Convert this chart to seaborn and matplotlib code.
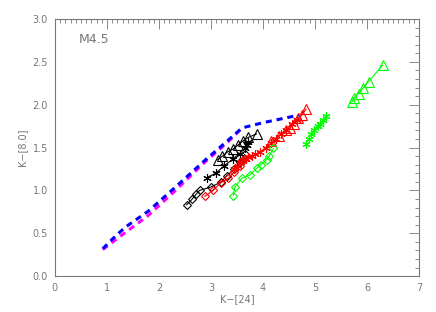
import matplotlib
matplotlib.use('Agg')
import matplotlib.pyplot as plt
import seaborn as sns
from matplotlib.ticker import MultipleLocator

# Model tracks (dashed)
blue_x = [0.92, 1.1, 1.35, 1.8, 2.3, 2.9, 3.3, 3.6, 4.0, 4.7]
blue_y = [0.32, 0.43, 0.57, 0.76, 1.03, 1.36, 1.57, 1.73, 1.79, 1.88]
mag_x = [0.92, 1.2, 1.8, 2.3, 2.9, 3.3, 3.55]
mag_y = [0.31, 0.44, 0.71, 0.99, 1.34, 1.55, 1.70]

# Black series
bk_dia_x = [2.53, 2.64, 2.72, 2.78, 3.0, 3.2, 3.3, 3.45, 3.55, 3.65]
bk_dia_y = [0.83, 0.90, 0.96, 1.00, 1.04, 1.10, 1.17, 1.25, 1.33, 1.42]
bk_star_x = [2.92, 3.09, 3.26, 3.43, 3.55, 3.65, 3.70, 3.72]
bk_star_y = [1.15, 1.20, 1.29, 1.37, 1.43, 1.49, 1.53, 1.57]
bk_tri_x = [3.13, 3.22, 3.32, 3.42, 3.52, 3.62, 3.72, 3.88]
bk_tri_y = [1.36, 1.40, 1.45, 1.48, 1.53, 1.58, 1.62, 1.66]

# Red series
rd_dia_x = [2.88, 3.04, 3.19, 3.33, 3.45, 3.55, 3.62]
rd_dia_y = [0.93, 1.00, 1.09, 1.14, 1.22, 1.29, 1.35]
rd_star_x = [3.45, 3.52, 3.58, 3.62, 3.68, 3.72, 3.78, 3.85, 3.95, 4.05, 4.15, 4.25, 4.35, 4.45, 4.55, 4.65]
rd_star_y = [1.25, 1.29, 1.33, 1.35, 1.37, 1.39, 1.40, 1.42, 1.45, 1.50, 1.55, 1.60, 1.66, 1.71, 1.77, 1.82]
rd_tri_x = [4.15, 4.3, 4.45, 4.52, 4.60, 4.68, 4.75, 4.83]
rd_tri_y = [1.58, 1.63, 1.70, 1.73, 1.78, 1.84, 1.88, 1.95]

# Green series
gr_dia_x = [3.43, 3.46, 3.59, 3.75, 3.88, 3.96, 4.07, 4.12, 4.20]
gr_dia_y = [0.94, 1.04, 1.14, 1.18, 1.26, 1.30, 1.36, 1.40, 1.49]
gr_star_x = [4.82, 4.88, 4.93, 4.98, 5.05, 5.10, 5.16, 5.22]
gr_star_y = [1.54, 1.60, 1.66, 1.71, 1.75, 1.78, 1.82, 1.87]
gr_tri_x = [5.71, 5.75, 5.84, 5.93, 6.03, 6.30]
gr_tri_y = [2.03, 2.08, 2.13, 2.20, 2.27, 2.46]

sns.set_style("white")
plt.rcParams['font.family'] = ['DejaVu Sans']

fig = plt.figure(figsize=(4.36, 3.12), dpi=100)
ax = fig.add_axes([0.126, 0.115, 0.835, 0.824])

dash = (0, (2, 1.6))
sns.lineplot(x=mag_x, y=mag_y, sort=False, estimator=None, color='#ff00ff',
             linewidth=2.2, linestyle=dash, ax=ax)
sns.lineplot(x=blue_x, y=blue_y, sort=False, estimator=None, color='#0000ff',
             linewidth=2.2, linestyle=dash, ax=ax)

asterisk = (6, 2, 0)
series = [
    (bk_dia_x, bk_dia_y, 'D', 'black', 4.5),
    (bk_star_x, bk_star_y, asterisk, 'black', 6),
    (bk_tri_x, bk_tri_y, '^', 'black', 7),
    (rd_dia_x, rd_dia_y, 'D', 'red', 4.5),
    (rd_star_x, rd_star_y, asterisk, 'red', 6),
    (rd_tri_x, rd_tri_y, '^', 'red', 7),
    (gr_dia_x, gr_dia_y, 'D', '#00ff00', 4.5),
    (gr_star_x, gr_star_y, asterisk, '#00ff00', 6),
    (gr_tri_x, gr_tri_y, '^', '#00ff00', 7),
]
for xs, ys, mk, col, ms in series:
    sns.lineplot(x=xs, y=ys, sort=False, estimator=None, color=col, linewidth=0.8,
                 marker=mk, markersize=ms, markerfacecolor='none',
                 markeredgecolor=col, markeredgewidth=0.8, ax=ax)

ax.set_xlim(0, 7)
ax.set_ylim(0, 3)
ax.xaxis.set_major_locator(MultipleLocator(1))
ax.xaxis.set_minor_locator(MultipleLocator(0.1))
ax.yaxis.set_major_locator(MultipleLocator(0.5))
ax.yaxis.set_minor_locator(MultipleLocator(0.1))
ax.xaxis.set_major_formatter(plt.FormatStrFormatter('%d'))
ax.yaxis.set_major_formatter(plt.FormatStrFormatter('%.1f'))

grey = '#777777'
for s in ax.spines.values():
    s.set_color(grey)
    s.set_linewidth(0.8)
ax.tick_params(which='both', direction='in', top=True, right=True, colors=grey,
               labelsize=7, labelcolor=grey, width=0.6)
ax.tick_params(which='major', length=7, pad=5)
ax.tick_params(which='minor', length=3)

ax.set_xlabel('K\u2212[24]', fontsize=7, color=grey, labelpad=1)
ax.set_ylabel('K\u2212[8.0]', fontsize=7, color=grey, labelpad=4)
ax.text(0.45, 2.72, 'M4.5', fontsize=9, color=grey)

fig.savefig('out.png', dpi=100)
